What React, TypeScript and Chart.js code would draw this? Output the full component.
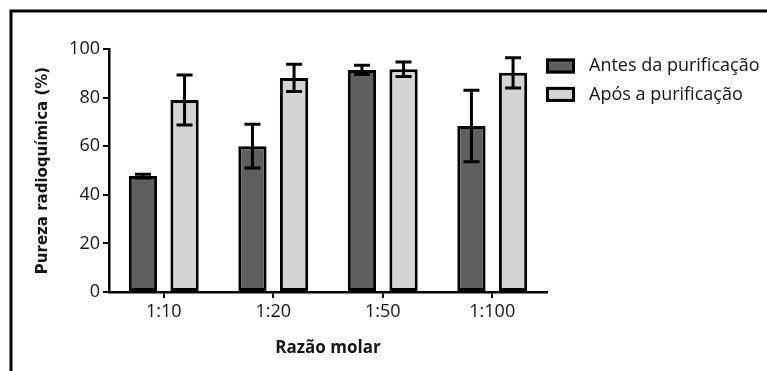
import React, { useEffect, useRef } from "react";
import { Chart, registerables } from "chart.js";

Chart.register(...registerables);

const categories = ["1:10", "1:20", "1:50", "1:100"];
const seriesLabels = ["Antes da purificação", "Após a purificação"];
const antesValues = [47.7, 60.0, 91.4, 68.3];
const antesErrors = [0.8, 9.0, 1.9, 14.7];
const aposValues = [79.0, 88.1, 91.7, 90.2];
const aposErrors = [10.3, 5.6, 3.0, 6.2];
const yTickLabels = [0, 20, 40, 60, 80, 100];
const yAxisTitle = "Pureza radioquímica (%)";
const xAxisTitle = "Razão molar";

const DARK = "#5f5f5f";
const LIGHT = "#d4d4d4";
const TEXT = "#151515";

const framePlugin = {
  id: "frame",
  beforeDraw(chart: any) {
    const ctx = chart.ctx;
    ctx.save();
    ctx.strokeStyle = "#000";
    ctx.lineWidth = 3;
    ctx.beginPath();
    ctx.moveTo(11, chart.height + 5);
    ctx.lineTo(11, 11);
    ctx.lineTo(chart.width + 5, 11);
    ctx.stroke();
    ctx.restore();
  },
};

const errorBarPlugin = {
  id: "errorBars",
  afterDatasetsDraw(chart: any) {
    const ctx = chart.ctx;
    const yScale = chart.scales.y;
    ctx.save();
    ctx.strokeStyle = "#000";
    ctx.lineWidth = 3;
    ctx.lineCap = "butt";
    chart.data.datasets.forEach((ds: any, i: number) => {
      const meta = chart.getDatasetMeta(i);
      meta.data.forEach((bar: any, j: number) => {
        const v = ds.data[j];
        const e = ds.errors[j];
        const yTop = yScale.getPixelForValue(v + e);
        const yBot = yScale.getPixelForValue(v - e);
        const half = 8;
        ctx.beginPath();
        ctx.moveTo(bar.x, yTop);
        ctx.lineTo(bar.x, yBot);
        ctx.moveTo(bar.x - half, yTop);
        ctx.lineTo(bar.x + half, yTop);
        ctx.moveTo(bar.x - half, yBot);
        ctx.lineTo(bar.x + half, yBot);
        ctx.stroke();
      });
    });
    ctx.restore();
  },
};

const legendPlugin = {
  id: "customLegend",
  afterDraw(chart: any) {
    const ctx = chart.ctx;
    ctx.save();
    const x0 = 546;
    const y0 = 58.5;
    const rowH = 28.4;
    const bw = 29;
    const bh = 15;
    chart.data.datasets.forEach((ds: any, i: number) => {
      const y = y0 + i * rowH;
      ctx.fillStyle = ds.backgroundColor;
      ctx.fillRect(x0, y, bw, bh);
      ctx.strokeStyle = "#000";
      ctx.lineWidth = 3;
      ctx.strokeRect(x0 + 1.5, y + 1.5, bw - 3, bh - 3);
      ctx.fillStyle = TEXT;
      ctx.font = "18px 'Open Sans'";
      ctx.textBaseline = "middle";
      ctx.textAlign = "left";
      ctx.fillText(ds.label, 589, y + bh / 2);
    });
    ctx.restore();
  },
};

export default function App() {
  const ref = useRef<HTMLCanvasElement>(null);
  useEffect(() => {
    if (!ref.current) return;
    const chart = new Chart(ref.current, {
      type: "bar",
      data: {
        labels: categories,
        datasets: [
          {
            label: seriesLabels[0],
            data: antesValues,
            errors: antesErrors,
            backgroundColor: DARK,
            borderColor: "#000",
            borderWidth: 3,
            borderSkipped: false,
            categoryPercentage: 0.76,
            barPercentage: 0.68,
          } as any,
          {
            label: seriesLabels[1],
            data: aposValues,
            errors: aposErrors,
            backgroundColor: LIGHT,
            borderColor: "#000",
            borderWidth: 3,
            borderSkipped: false,
            categoryPercentage: 0.76,
            barPercentage: 0.68,
          } as any,
        ],
      },
      options: {
        responsive: false,
        animation: false,
        layout: { padding: { left: 0, top: 49, right: 220, bottom: 0 } },
        plugins: {
          legend: { display: false },
          tooltip: { enabled: false },
        },
        scales: {
          x: {
            type: "category",
            offset: true,
            grid: {
              offset: false,
              drawOnChartArea: false,
              drawTicks: true,
              tickLength: 6,
              color: "#000",
              lineWidth: 2,
            },
            border: { display: true, color: "#000", width: 2.5 },
            ticks: {
              font: { family: "'Open Sans'", size: 18 },
              color: TEXT,
              padding: 3,
            },
            title: {
              display: true,
              text: xAxisTitle,
              font: { family: "'Open Sans'", size: 17, weight: "bold" },
              color: TEXT,
              padding: { top: 0, bottom: 13 },
            },
            afterFit(scale: any) {
              scale.height = 79;
            },
          },
          y: {
            min: 0,
            max: 100,
            grid: {
              drawOnChartArea: false,
              drawTicks: true,
              tickLength: 6,
              color: "#000",
              lineWidth: 2,
            },
            border: { display: true, color: "#000", width: 2.5 },
            ticks: {
              stepSize: 10,
              font: { family: "'Open Sans'", size: 18 },
              color: TEXT,
              padding: 3,
              callback: (v: any) => (yTickLabels.includes(Number(v)) ? String(v) : ""),
            },
            title: {
              display: true,
              text: yAxisTitle,
              font: { family: "'DejaVu Sans'", size: 15, weight: "bold" },
              color: TEXT,
              padding: { top: 34, bottom: 0 },
            },
            afterFit(scale: any) {
              scale.width = 109;
            },
          },
        },
      },
      plugins: [framePlugin, errorBarPlugin, legendPlugin],
    });
    return () => chart.destroy();
  }, []);
  return (
    <div style={{ position: "fixed", left: 0, top: 0, width: 767, height: 371, background: "#fff" }}>
      <canvas ref={ref} width={767} height={371} />
    </div>
  );
}
